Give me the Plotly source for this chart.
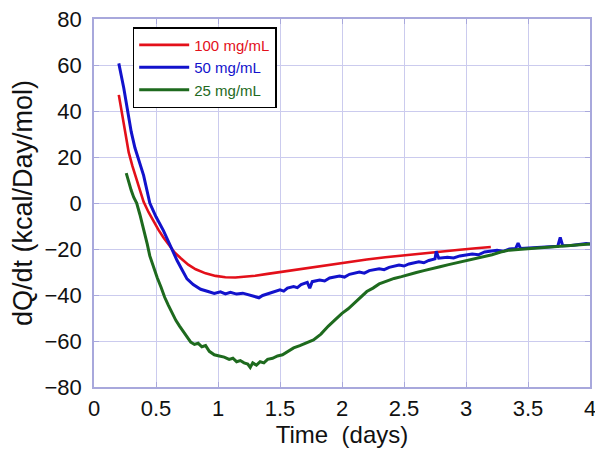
import plotly.graph_objects as go

RED = "#E3101A"
BLUE = "#1212CC"
GREEN = "#1E6A1E"
GRID = "#CBCBEE"
FRAME = "#A8A8DC"
FONT = "Liberation Sans, Arial, sans-serif"

# 100 mg/mL
t_100 = [0.20, 0.215, 0.23, 0.25, 0.28, 0.31, 0.34, 0.37, 0.40, 0.44, 0.48, 0.52, 0.56, 0.60,
         0.65, 0.70, 0.76, 0.82, 0.90, 0.98, 1.06, 1.14, 1.22, 1.30, 1.40, 1.50, 1.60,
         1.75, 1.90, 2.05, 2.20, 2.35, 2.50, 2.65, 2.80, 2.95, 3.08, 3.20]
q_100 = [47, 42, 37, 30, 22, 16, 10.5, 5, 0.5, -4, -8, -11.7, -15, -18,
         -21.5, -24, -26.8, -28.8, -30.6, -31.7, -32.3, -32.4, -32.1, -31.6, -30.8, -30.0, -29.2,
         -28.0, -26.8, -25.7, -24.6, -23.6, -22.7, -21.9, -21.1, -20.3, -19.7, -19.1]

# 50 mg/mL
t_50 = [0.20, 0.21, 0.225, 0.24, 0.25, 0.265, 0.28, 0.30, 0.33, 0.36, 0.40, 0.45, 0.50, 0.56,
        0.60, 0.63, 0.67, 0.71, 0.75, 0.80, 0.86, 0.92, 0.97, 1.02, 1.06, 1.10, 1.15, 1.20,
        1.25, 1.30, 1.33, 1.36, 1.40, 1.45, 1.50, 1.53, 1.56, 1.61, 1.64, 1.67, 1.72, 1.74,
        1.76, 1.82, 1.86, 1.90, 1.98, 2.02, 2.06, 2.14, 2.18, 2.22, 2.30, 2.34, 2.38, 2.46,
        2.50, 2.54, 2.62, 2.66, 2.70, 2.75, 2.76, 2.78, 2.85, 2.90, 2.95, 3.05, 3.10, 3.15,
        3.25, 3.30, 3.35, 3.40, 3.42, 3.44, 3.52, 3.56, 3.60, 3.68, 3.74, 3.76, 3.78, 3.85,
        3.92, 3.97, 4.00]
q_50 = [60.7, 57.5, 54, 50, 47, 42.5, 38, 31, 24, 18.5, 12, 0, -6, -12,
        -17, -20.5, -25, -29, -33, -35.5, -37.5, -38.5, -39.3, -38.6, -39.5, -38.8, -39.6, -39.2,
        -40.0, -40.5, -41.2, -40.2, -39.5, -38.5, -37.8, -38.3, -37.0, -36.3, -36.8, -35.5, -34.5, -37.0,
        -34.2, -33.5, -33.9, -32.6, -31.8, -32.2, -31.0, -30.0, -30.5, -29.4, -28.6, -29.0, -28.0, -27.0,
        -27.4, -26.5, -25.6, -26.0, -25.0, -24.3, -21.0, -24.0, -23.6, -23.9, -23.0, -22.2, -22.5, -21.3,
        -20.6, -21.0, -20.0, -19.8, -17.5, -19.8, -19.6, -19.2, -19.4, -19.0, -18.8, -15.0, -18.6, -18.5,
        -18.0, -17.6, -17.8]

# 25 mg/mL
t_25 = [0.26, 0.28, 0.30, 0.32, 0.344, 0.37, 0.40, 0.43, 0.45, 0.48, 0.51, 0.54, 0.57,
        0.60, 0.63, 0.66, 0.69, 0.72, 0.75, 0.78, 0.81, 0.84, 0.87, 0.90, 0.93, 0.97,
        1.01, 1.05, 1.09, 1.12, 1.15, 1.18, 1.21, 1.24, 1.26, 1.28, 1.31, 1.34, 1.37,
        1.40, 1.44, 1.48, 1.52, 1.56, 1.61, 1.66, 1.71, 1.77, 1.83, 1.89, 1.95, 2.00,
        2.05, 2.10, 2.15, 2.20, 2.25, 2.30, 2.36, 2.42, 2.48, 2.54, 2.60, 2.66, 2.72,
        2.79, 2.86, 2.93, 3.00, 3.07, 3.14, 3.21, 3.28, 3.35, 3.42, 3.50, 3.58, 3.66,
        3.74, 3.82, 3.90, 4.00]
q_25 = [13, 9, 5.5, 2.5, 0, -5, -11, -18, -23, -28, -32.5, -36.5, -41,
        -44.5, -48, -51, -53.5, -56, -58.5, -60.5, -61.5, -61, -62.5, -62, -64.5, -66,
        -66.5, -67, -68, -67.5, -69, -68.5, -69.5, -70, -71.5, -69.5, -70.5, -69, -69.5,
        -68, -67.5, -66.5, -66, -64.5, -63, -62, -61, -59.5, -57, -53.5, -50.5, -48,
        -46, -43.5, -41, -38.5, -37, -35.2, -34, -32.8, -32, -31, -30.2, -29.4, -28.5,
        -27.7, -26.8, -25.9, -25.2, -24.4, -23.5, -22.5, -21.3, -20.5, -20.2, -19.9, -19.6, -19.4,
        -19.1, -18.7, -18.3, -17.8]

x_ticks = [0, 0.5, 1, 1.5, 2, 2.5, 3, 3.5, 4]
x_labels = ["0", "0.5", "1", "1.5", "2", "2.5", "3", "3.5", "4"]
y_ticks = [-80, -60, -40, -20, 0, 20, 40, 60, 80]

series = [
    ("100 mg/mL", t_100, q_100, RED, 2.6),
    ("50 mg/mL", t_50, q_50, BLUE, 3.0),
    ("25 mg/mL", t_25, q_25, GREEN, 3.0),
]

fig = go.Figure()
for name, t, q, color, w in series:
    fig.add_trace(
        go.Scatter(
            x=t,
            y=q,
            mode="lines",
            line=dict(color=color, width=w),
            name=f'<span style="color:{color}">{name}</span>',
        )
    )

axis_common = dict(
    automargin=False,
    showgrid=True,
    gridcolor=GRID,
    gridwidth=1,
    zeroline=False,
    showline=True,
    linecolor=FRAME,
    linewidth=1.5,
    mirror="ticks",
    ticks="inside",
    ticklen=5,
    tickcolor=FRAME,
    ticklabeloverflow="allow",
    tickfont=dict(family=FONT, size=22, color="#111111"),
)

# page body keeps its default 8px margin, so the figure is 8px smaller and margins shifted
fig.update_layout(
    width=595,
    height=450,
    margin=dict(l=86, r=13, t=11, b=71),
    paper_bgcolor="white",
    plot_bgcolor="white",
    font=dict(family=FONT, color="#111111"),
    xaxis=dict(
        range=[0, 4],
        tickvals=x_ticks,
        ticktext=x_labels,
        ticklabelstandoff=1,
        title=dict(text="Time  (days)", font=dict(family=FONT, size=24), standoff=0),
        **axis_common,
    ),
    yaxis=dict(
        range=[-80, 80],
        tickvals=y_ticks,
        ticklabelstandoff=6,
        title=dict(text="dQ/dt (kcal/Day/mol)", font=dict(family=FONT, size=27), standoff=6),
        **axis_common,
    ),
    legend=dict(
        x=0.078,
        y=0.978,
        xanchor="left",
        yanchor="top",
        bgcolor="white",
        bordercolor="black",
        borderwidth=1.5,
        font=dict(family=FONT, size=15),
        itemwidth=50,
    ),
)

fig.write_html("out.html")
